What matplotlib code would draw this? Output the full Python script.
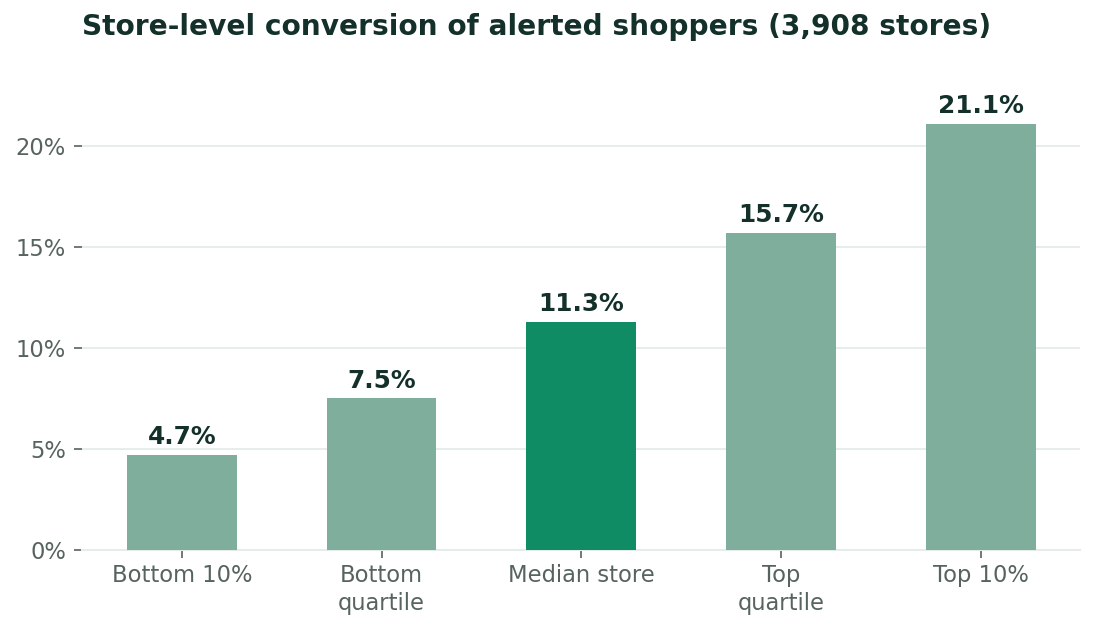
import matplotlib
matplotlib.use("Agg")
import matplotlib.pyplot as plt
from matplotlib.ticker import FuncFormatter

categories = ["Bottom 10%", "Bottom\nquartile", "Median store", "Top\nquartile", "Top 10%"]
values = [4.7, 7.5, 11.3, 15.7, 21.1]
highlight = "Median store"
yticks = [0, 5, 10, 15, 20]
title = "Store-level conversion of alerted shoppers (3,908 stores)"

base_color = "#80AE9C"
hi_color = "#0F8C64"
dark = "#13302A"
gray = "#56635F"
grid_c = "#E5ECEA"

fig = plt.figure(figsize=(10.96, 6.35), dpi=100)
ax = fig.add_axes([0.0748, 0.134, 0.911, 0.738])

x = list(range(len(categories)))
colors = [hi_color if c == highlight else base_color for c in categories]
bars = ax.bar(x, values, width=0.55, color=colors, zorder=3)

for xi, v in zip(x, values):
    ax.annotate(f"{v:.1f}%", (xi, v), xytext=(0, 4), textcoords="offset points",
                ha="center", va="bottom", fontsize=17.8, fontweight="bold", color=dark)

ax.set_xlim(-0.5, len(categories) - 0.5)
ax.set_ylim(0, 23.2)
ax.set_yticks(yticks)
ax.yaxis.set_major_formatter(FuncFormatter(lambda v, p: f"{v:.0f}%"))
ax.set_xticks(x)
ax.set_xticklabels(categories, linespacing=1.25)
ax.tick_params(axis="both", colors=gray, labelsize=16.3, length=5.5, width=1.2)
ax.tick_params(axis="y", pad=6)
ax.tick_params(axis="x", pad=5)
ax.grid(axis="y", color=grid_c, linewidth=1.3, zorder=0)
for s in ["top", "right", "left"]:
    ax.spines[s].set_visible(False)
ax.spines["bottom"].set_color(grid_c)
ax.spines["bottom"].set_linewidth(1.5)

fig.text(0.0748, 0.957, title, fontsize=20.2, fontweight="bold", color=dark, ha="left", va="center")

fig.savefig("out.png", dpi=100)
